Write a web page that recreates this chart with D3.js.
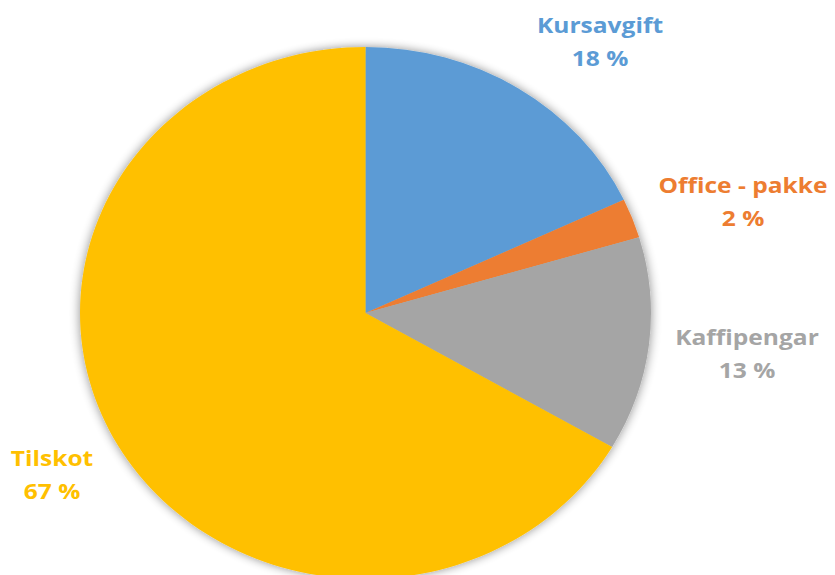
<!DOCTYPE html>
<html>
<head>
<meta charset="utf-8">
<script src="https://cdn.jsdelivr.net/npm/d3@7"></script>
<style>
  body { margin: 0; background: #fff; }
  svg { display: block; }
</style>
</head>
<body>
<div id="chart"></div>
<script>
// data
var categories = ['Kursavgift', 'Office - pakke', 'Kaffipengar', 'Tilskot'];
var values = [18.0, 2.4, 13.0, 66.6];
var colors = ['#5b9bd5', '#ed7d31', '#a5a5a5', '#ffc000'];

var width = 835, height = 575;
var cx = 365.5, cy = 313;
var rx = 285.5, ry = 266;
var stretch = rx / ry;

// where each label sits (centre x, baseline of first line)
var labelPos = [[600, 33], [743, 193], [747, 345], [52, 466]];

var svg = d3.select('#chart')
    .append('svg')
    .attr('width', width)
    .attr('height', height);

var defs = svg.append('defs');
var filter = defs.append('filter')
    .attr('id', 'shadow')
    .attr('x', '-10%').attr('y', '-10%')
    .attr('width', '120%').attr('height', '120%');
filter.append('feGaussianBlur')
    .attr('in', 'SourceAlpha')
    .attr('stdDeviation', 5);
filter.append('feOffset').attr('dx', 0).attr('dy', 0).attr('result', 'blur');
filter.append('feComponentTransfer')
    .append('feFuncA').attr('type', 'linear').attr('slope', 0.45);
var merge = filter.append('feMerge');
merge.append('feMergeNode');
merge.append('feMergeNode').attr('in', 'SourceGraphic');

var pie = d3.pie().sort(null).value(function(d) { return d; });
var arc = d3.arc().innerRadius(0).outerRadius(ry);

var g = svg.append('g')
    .attr('transform', 'translate(' + cx + ',' + cy + ') scale(' + stretch + ',1)')
    .attr('filter', 'url(#shadow)');

g.selectAll('path')
    .data(pie(values))
    .enter().append('path')
    .attr('d', arc)
    .style('fill', function(d, i) { return colors[i]; });

// labels (picture is a bit wider than tall, so stretch text the same way)
var labels = svg.selectAll('text.lbl')
    .data(categories)
    .enter().append('text')
    .attr('class', 'lbl')
    .attr('text-anchor', 'middle')
    .attr('transform', function(d, i) {
        return 'translate(' + labelPos[i][0] + ',' + labelPos[i][1] + ') scale(' + (stretch * 1.04) + ',1)';
    })
    .style('font-family', '"Open Sans", sans-serif')
    .style('font-weight', 'bold')
    .style('font-size', '22px')
    .style('fill', function(d, i) { return colors[i]; });

labels.append('tspan')
    .attr('x', 0)
    .attr('y', 0)
    .text(function(d) { return d; });

labels.append('tspan')
    .attr('x', 0)
    .attr('y', 33)
    .text(function(d, i) { return Math.round(values[i]) + ' %'; });
</script>
</body>
</html>
